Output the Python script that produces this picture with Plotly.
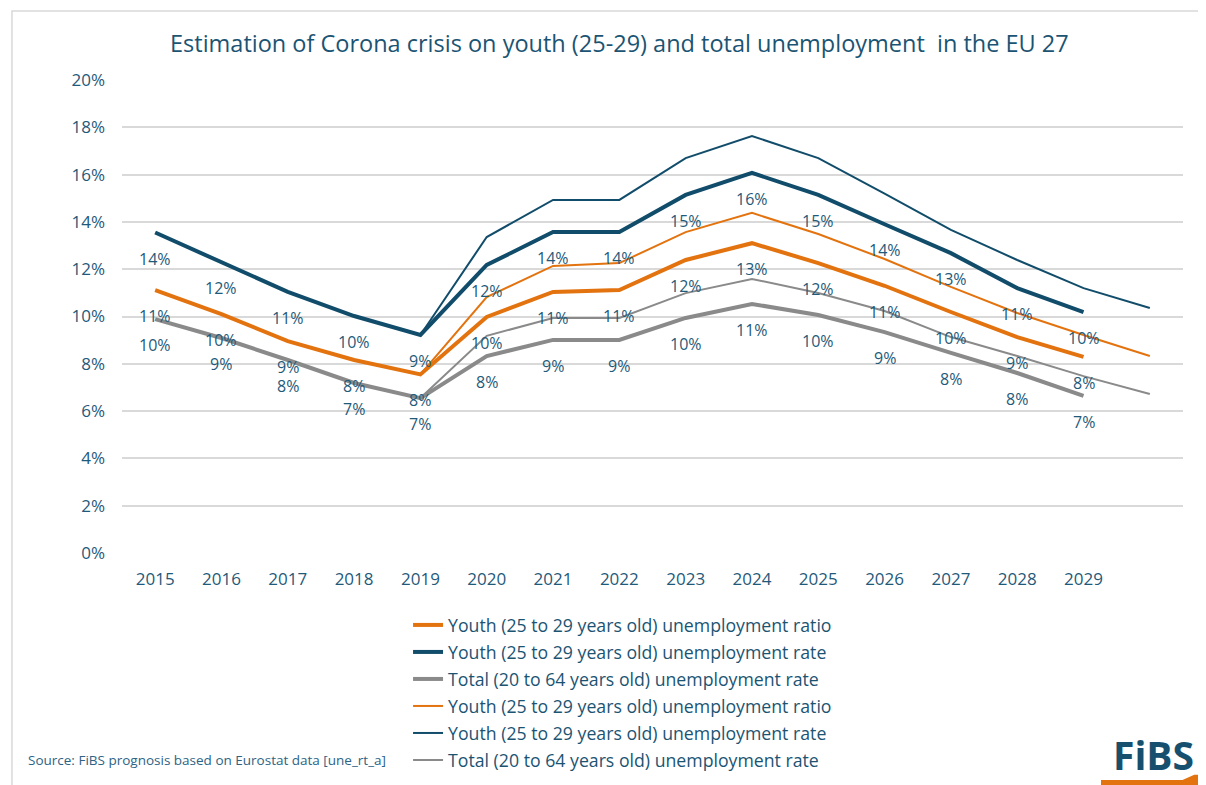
import plotly.graph_objects as go

# ------------------------------------------------------------------
# Data
# ------------------------------------------------------------------
years = list(range(2015, 2030))
years_forecast = list(range(2019, 2031))
tick_years = list(range(2015, 2030))

youth_ratio = [11.12, 10.10, 8.96, 8.16, 7.55, 9.98, 11.04, 11.12, 12.39, 13.10, 12.26, 11.30, 10.19, 9.13, 8.29]
youth_rate = [13.55, 12.30, 11.04, 10.02, 9.22, 12.18, 13.57, 13.57, 15.14, 16.07, 15.14, 13.90, 12.68, 11.20, 10.19]
total_rate = [9.89, 9.09, 8.16, 7.19, 6.55, 8.33, 9.01, 9.01, 9.94, 10.53, 10.06, 9.34, 8.46, 7.61, 6.64]

youth_ratio_crisis = [7.55, 10.82, 12.14, 12.26, 13.57, 14.38, 13.49, 12.43, 11.25, 10.15, 9.22, 8.33]
youth_rate_crisis = [9.22, 13.36, 14.93, 14.93, 16.70, 17.63, 16.70, 15.20, 13.66, 12.39, 11.20, 10.36]
total_rate_crisis = [6.55, 9.18, 9.94, 9.94, 10.99, 11.59, 10.99, 10.23, 9.13, 8.33, 7.48, 6.72]

ORANGE = "#e3730f"
NAVY = "#114d6b"
GREY = "#8a8a8a"
TEXT = "#1f5a7a"
FONT = "Open Sans"

fig = go.Figure()

thick = [
    ("Youth (25 to 29 years old) unemployment ratio", youth_ratio, ORANGE),
    ("Youth (25 to 29 years old) unemployment rate", youth_rate, NAVY),
    ("Total (20 to 64 years old) unemployment rate", total_rate, GREY),
]
thin = [
    ("Youth (25 to 29 years old) unemployment ratio", youth_ratio_crisis, ORANGE),
    ("Youth (25 to 29 years old) unemployment rate", youth_rate_crisis, NAVY),
    ("Total (20 to 64 years old) unemployment rate", total_rate_crisis, GREY),
]

for i, (name, vals, col) in enumerate(thick):
    fig.add_trace(go.Scatter(x=years, y=vals, name=name, mode="lines", legendgroup=f"a{i}",
                             line=dict(color=col, width=4)))
for i, (name, vals, col) in enumerate(thin):
    fig.add_trace(go.Scatter(x=years_forecast, y=vals, name=name, mode="lines", legendgroup=f"b{i}",
                             line=dict(color=col, width=2)))

# data labels below the thick lines
for _, vals, _ in thick:
    for x, v in zip(years, vals):
        fig.add_annotation(x=x, y=v, text=f"{round(v):.0f}%", showarrow=False,
                           yshift=-26, font=dict(family=FONT, size=16, color=TEXT))

# title
fig.add_annotation(text="Estimation of Corona crisis on youth (25-29) and total unemployment  in the EU 27",
                   xref="paper", yref="paper", x=0.469, y=1.078, yanchor="middle", showarrow=False,
                   font=dict(family=FONT, size=23.5, color="#1b5473"))

# source note
fig.add_annotation(text="Source: FiBS prognosis based on Eurostat data [une_rt_a]",
                   xref="paper", yref="paper", x=-0.0905, y=-0.4376, xanchor="left", yanchor="middle",
                   showarrow=False, font=dict(family=FONT, size=13.5, color="#2d6385"))

# logo
fig.add_annotation(text="<b>FiBS</b>", xref="paper", yref="paper", x=1.012, y=-0.427,
                   xanchor="right", yanchor="middle", showarrow=False,
                   font=dict(family=FONT, size=39, color="#17506f"))
fig.add_shape(type="path", xref="paper", yref="paper",
              path="M 0.9227 -0.4905 L 1.022 -0.4905 L 1.022 -0.469 L 1.0106 -0.469 L 0.9995 -0.480 L 0.9227 -0.480 Z",
              fillcolor=ORANGE, line=dict(width=0))

# outer frame (top and left edges visible)
fig.add_shape(type="rect", xref="paper", yref="paper", x0=-0.1037, x1=1.1,
              y0=-0.6, y1=1.1459, line=dict(color="#d9d9d9", width=1.5), layer="below")

fig.update_layout(
    width=1198,
    height=777,
    margin=dict(l=114, r=23, t=72, b=232, autoexpand=False),
    paper_bgcolor="white",
    plot_bgcolor="white",
    showlegend=True,
    legend=dict(orientation="v", x=0.2696, xanchor="left", y=-0.114, yanchor="top",
                font=dict(family=FONT, size=17.7, color="#1b5473"),
                bgcolor="rgba(0,0,0,0)", tracegroupgap=1, itemwidth=30),
    xaxis=dict(range=[2014.5, 2030.5], tickvals=tick_years, ticktext=[str(y) for y in tick_years],
               showgrid=False, zeroline=False, showline=False, ticks="", ticklabelstandoff=14,
               tickfont=dict(family=FONT, size=17, color=TEXT)),
    yaxis=dict(range=[0, 20], dtick=2, ticksuffix="%", showgrid=True, gridcolor="#d9d9d9",
               gridwidth=1.5, zeroline=False, showline=False, ticks="", ticklabelstandoff=16,
               tickfont=dict(family=FONT, size=17, color=TEXT)),
)

fig.write_html("out.html")
